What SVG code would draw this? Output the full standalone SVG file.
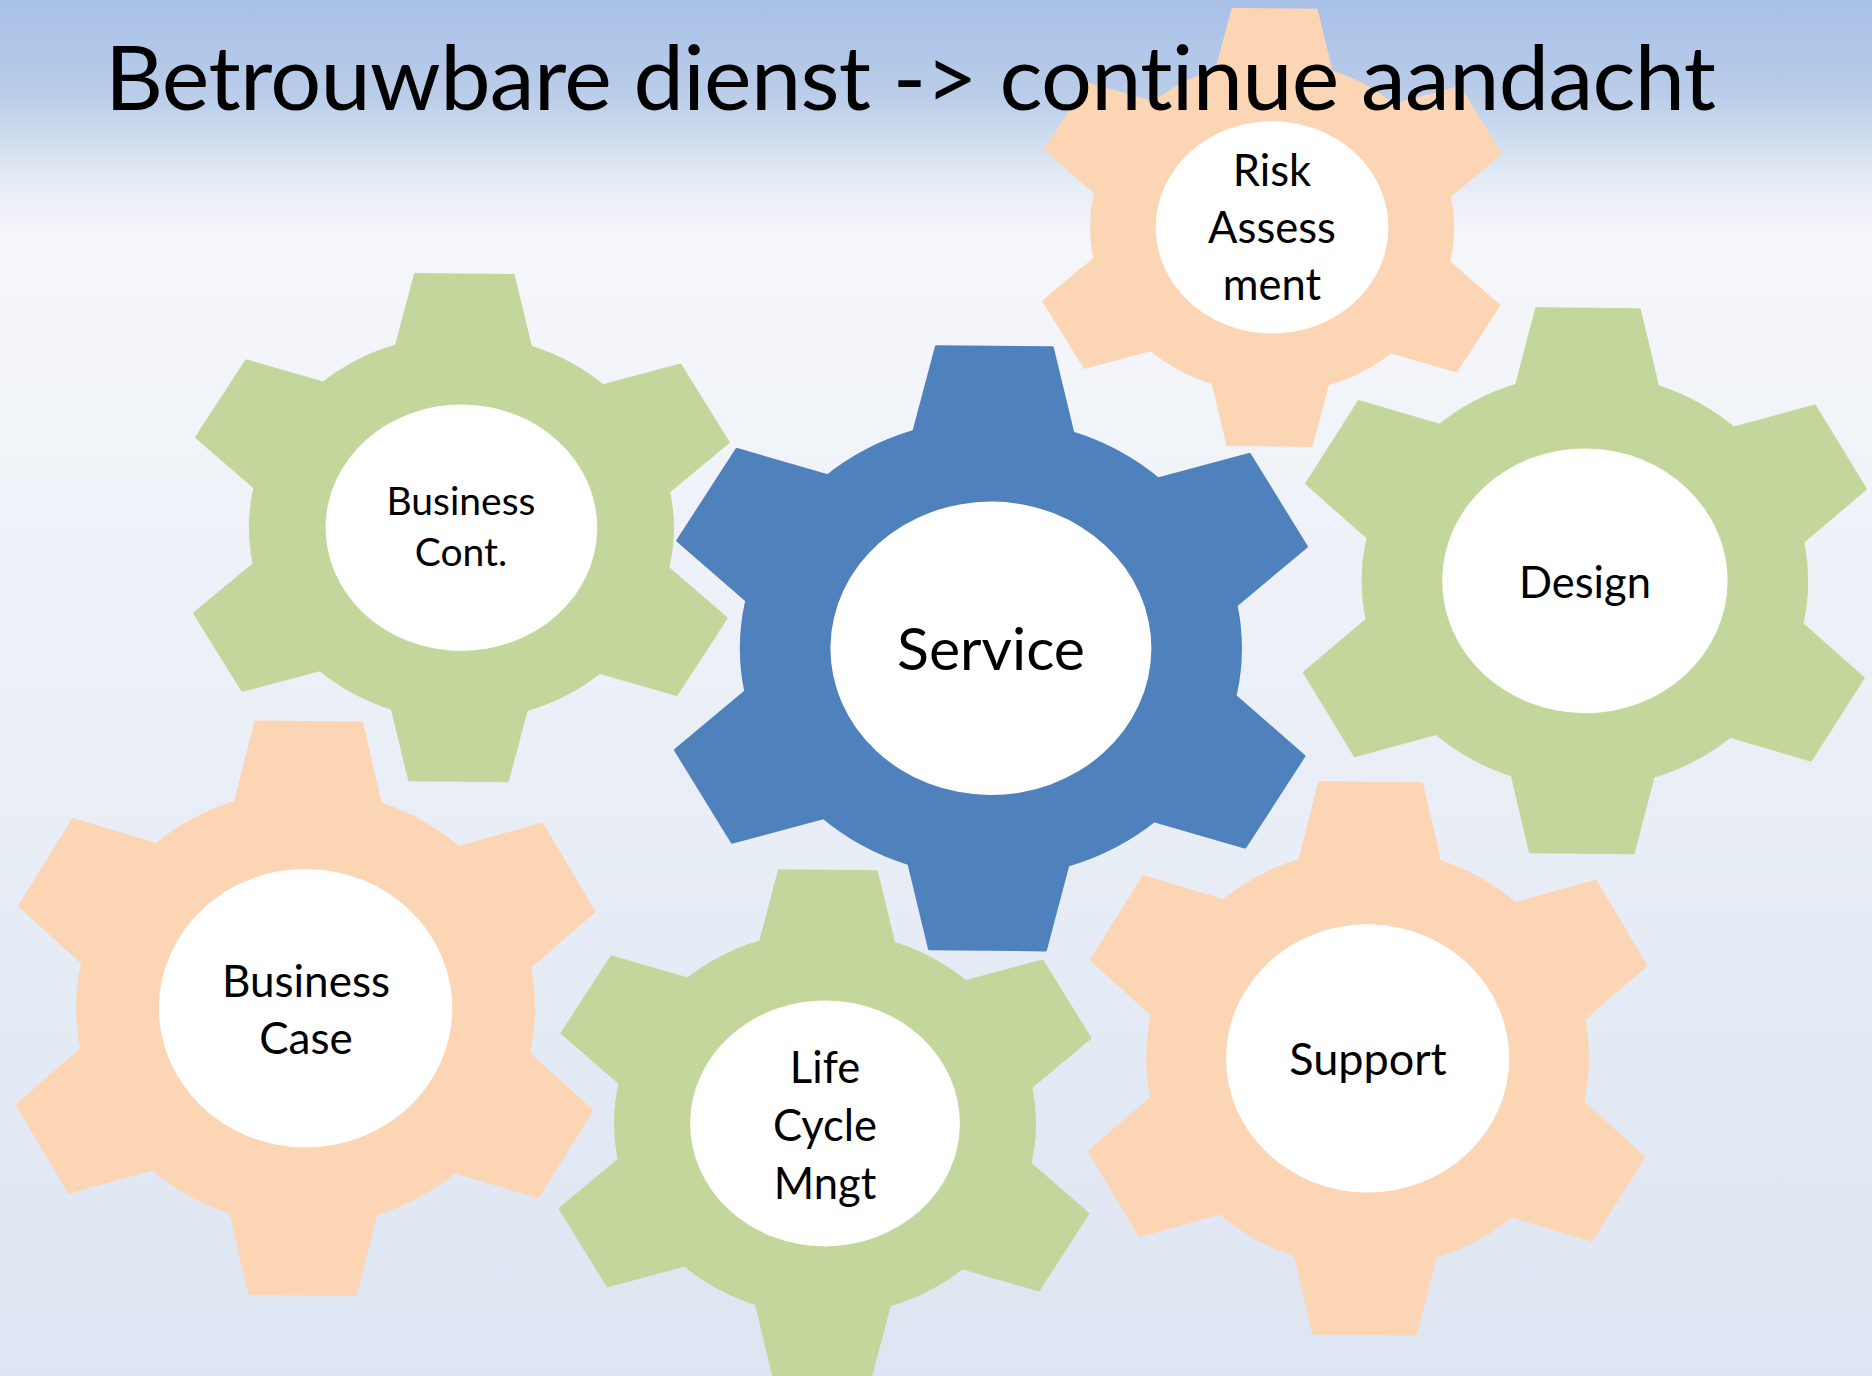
<svg xmlns="http://www.w3.org/2000/svg" width="1872" height="1376" viewBox="0 0 1872 1376">
<defs>
<linearGradient id="bg" x1="0" y1="0" x2="0" y2="1">
<stop offset="0" stop-color="#a8c0e7"/>
<stop offset="0.07" stop-color="#bacde9"/>
<stop offset="0.13" stop-color="#e4ebf5"/>
<stop offset="0.17" stop-color="#f5f6f9"/>
<stop offset="0.3" stop-color="#f1f4f9"/>
<stop offset="1" stop-color="#dde5f2"/>
</linearGradient>
<path id="tooth" d="M-26.2,-60 L-17.3,-98.5 L17.3,-98.5 L26.2,-60 Z"/>
<g id="gear" stroke-width="1" stroke-linejoin="round">
<circle r="74.6"/>
<use href="#tooth"/>
<use href="#tooth" transform="rotate(60)"/>
<use href="#tooth" transform="rotate(120)"/>
<use href="#tooth" transform="rotate(180)"/>
<use href="#tooth" transform="rotate(240)"/>
<use href="#tooth" transform="rotate(300)"/>
<circle r="48" fill="#ffffff" stroke="none"/>
</g>
</defs>
<style>
.blue{fill:#4f81bd;stroke:#4f81bd}
.green{fill:#c3d69b;stroke:#c3d69b}
.peach{fill:#fcd5b5;stroke:#fcd5b5}
.lbl{font-family:Lato,"Liberation Sans",sans-serif;text-anchor:middle;fill:#000000;font-variant-ligatures:none}
.title{font-family:Lato,"Liberation Sans",sans-serif;fill:#000000;font-variant-ligatures:none}
</style>
<rect x="0" y="0" width="1872" height="1376" fill="url(#bg)"/>

<g id="gear-business-cont">
<use href="#gear" class="green" transform="translate(461.4,527.7) scale(2.83,2.567) rotate(0.6)"/>
<text class="lbl" font-size="39" x="461" y="515">Business</text>
<text class="lbl" font-size="39" x="461" y="566">Cont.</text>
</g>

<g id="gear-risk-assessment">
<use href="#gear" class="peach" transform="translate(1272.1,227.4) scale(2.424,2.213) rotate(0.6)"/>
<text class="lbl" font-size="43.5" x="1272" y="186">Risk</text>
<text class="lbl" font-size="43.5" x="1272" y="243">Assess</text>
<text class="lbl" font-size="43.5" x="1272" y="300">ment</text>
</g>

<g id="gear-design">
<use href="#gear" class="green" transform="translate(1584.9,580.8) scale(2.973,2.758) rotate(0.6)"/>
<text class="lbl" font-size="43.5" x="1585" y="598">Design</text>
</g>

<g id="gear-business-case">
<use href="#gear" class="peach" transform="translate(305.6,1008.2) scale(3.056,2.901) rotate(0.6)"/>
<text class="lbl" font-size="44" x="306" y="997">Business</text>
<text class="lbl" font-size="44" x="306" y="1054">Case</text>
</g>

<g id="gear-life-cycle">
<use href="#gear" class="green" transform="translate(825,1123.4) scale(2.81,2.562) rotate(0.6)"/>
<text class="lbl" font-size="43.5" x="825" y="1083">Life</text>
<text class="lbl" font-size="43.5" x="825" y="1141">Cycle</text>
<text class="lbl" font-size="43.5" x="825" y="1199">Mngt</text>
</g>

<g id="gear-support">
<use href="#gear" class="peach" transform="translate(1367.6,1058.4) scale(2.949,2.794) rotate(0.6)"/>
<text class="lbl" font-size="45" x="1368" y="1075">Support</text>
</g>

<g id="gear-service">
<use href="#gear" class="blue" transform="translate(990.9,648.3) scale(3.343,3.056) rotate(0.6)"/>
<text class="lbl" font-size="59" x="991" y="670">Service</text>
</g>

<g id="connectors"></g>

<text class="title" font-size="90" x="105" y="110" textLength="1611">Betrouwbare dienst -&gt; continue aandacht</text>
</svg>
